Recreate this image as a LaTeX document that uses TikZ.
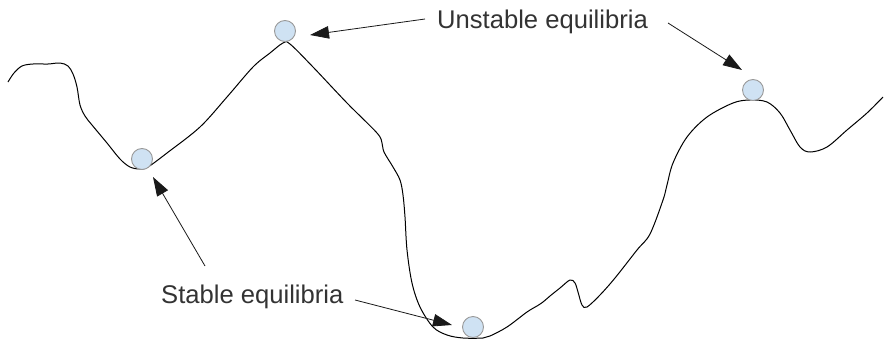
\documentclass[tikz,border=0pt]{standalone}
\usepackage{fontspec}
\setmainfont{Liberation Sans}
\usetikzlibrary{arrows.meta}
\definecolor{ballfill}{HTML}{CFE2F3}
\definecolor{ballline}{HTML}{999999}
\definecolor{txt}{HTML}{333333}
\begin{document}
\begin{tikzpicture}[x=1pt,y=-1pt,
  ball/.style={circle,draw=ballline,fill=ballfill,line width=0.9pt,minimum size=21pt,inner sep=0pt,outer sep=0pt},
  lbl/.style={text=txt,inner sep=0pt,anchor=base west,font=\fontsize{25.6}{30}\selectfont},
  pointer/.style={draw=black!90,line width=0.8pt,-{Triangle[length=19pt,width=12.5pt]}},
  landscape/.style={draw=black,line width=1pt,line join=round}]
\useasboundingbox (0,0) rectangle (886,340);
\draw[landscape] plot[smooth,tension=0.55] coordinates {
 (8,82) (14,73) (22,66) (33,64) (48,64) (60,63) (68,66) (73,74) (77,87) (80,105)
 (85,116) (92,125) (107,143) (120,159) (130,167) (140,169) (148,167) (167,153)
 (200,127) (227,97) (253,67) (270,53) (283,43) (290,44) (313,67) (347,103)
 (377,133) (382,143) (384,152) (393,167) (400,180) (403,195) (405,217) (407,250)
 (412,283) (420,307) (433,327) (447,335) (463,338) (483,338) (490,336) (507,327)
 (527,312) (537,306) (543,302) (550,296) (560,288) (570,280) (575,283) (578,292)
 (582,305) (587,307) (600,295) (615,278) (637,250) (650,234) (663,200) (667,185)
 (673,163) (687,137) (707,117) (733,103) (750,100) (767,102) (780,113) (790,130)
 (800,147) (810,152) (827,147) (847,130) (867,113) (883,97)};
\node[ball] (b1) at (142,159) {};
\node[ball] (b2) at (285,31) {};
\node[ball] (b3) at (753,90) {};
\node[ball] (b4) at (473,327) {};
\node[lbl] (unst) at (437,28) {Unstable equilibria};
\node[lbl] (stab) at (161,303) {Stable equilibria};
\coordinate (u1s) at (425,19);
\coordinate (u1e) at (310,35);
\coordinate (u2s) at (668,23);
\coordinate (u2e) at (742,70);
\coordinate (s1s) at (205,266);
\coordinate (s1e) at (153,177);
\coordinate (s2s) at (355,300);
\coordinate (s2e) at (452,325);
\draw[pointer] (u1s) -- (u1e);
\draw[pointer] (u2s) -- (u2e);
\draw[pointer] (s1s) -- (s1e);
\draw[pointer] (s2s) -- (s2e);
\end{tikzpicture}
\end{document}
